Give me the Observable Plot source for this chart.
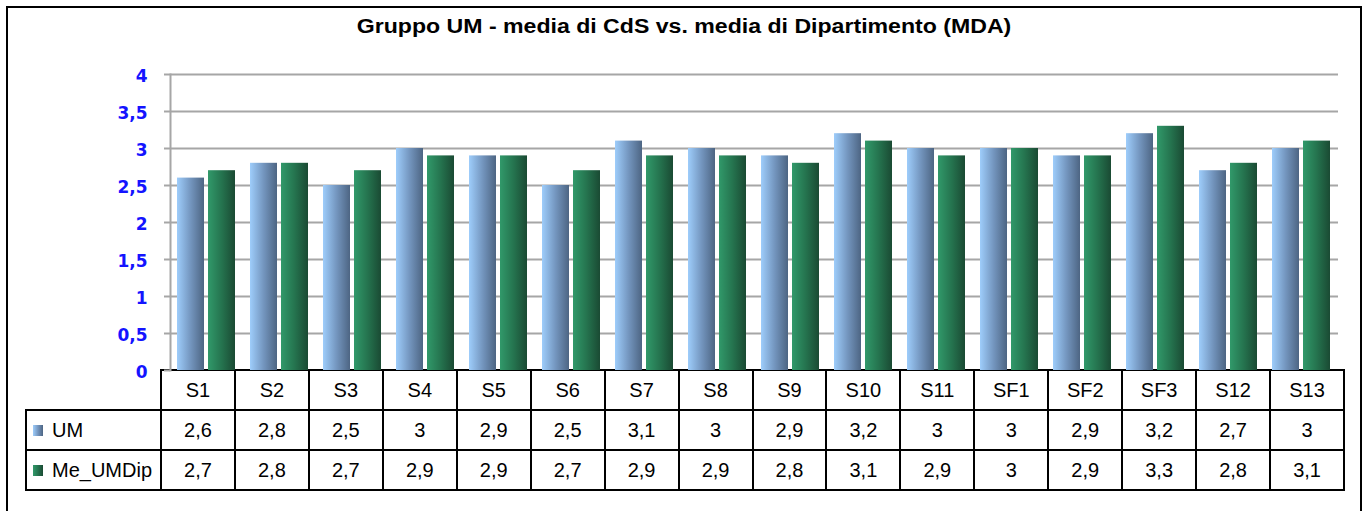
<!DOCTYPE html>
<html>
<head>
<meta charset="utf-8">
<script src="https://cdn.jsdelivr.net/npm/d3@7"></script>
<script src="https://cdn.jsdelivr.net/npm/@observablehq/plot@0.6"></script>
<style>
  body { margin: 0; background: #fff; }
  #wrap { position: relative; width: 1368px; height: 511px; overflow: hidden; font-family: "Liberation Sans", Arial, sans-serif; background: #fff; }
  #frame { position: absolute; left: 6px; top: 6px; width: 1356px; height: 520px; border: 2px solid #000; box-sizing: border-box; }
  #title { position: absolute; left: 0; top: 16px; width: 1368px; text-align: center; font-weight: bold; font-size: 20px; line-height: 20px; color: #000; transform: scaleX(1.155); transform-origin: 684px 0; }
  #chart { position: absolute; left: 0; top: 0; z-index: 2; }
  #tbl { position: absolute; left: 25px; top: 369px; width: 1320px; display: grid; grid-template-columns: 137px repeat(16, 1fr); grid-template-rows: 42px 40px 40px; z-index: 1; }
  #tbl div.c { box-sizing: border-box; display: flex; align-items: center; justify-content: center; font-size: 20px; color: #000; background: #fff; }
  #tbl div.lg { justify-content: flex-start; padding-left: 6px; }
  .key { display: inline-block; width: 10px; height: 11px; margin-right: 9px; }
</style>
</head>
<body>
<div id="wrap">
  <div id="frame"></div>
  <div id="title"></div>
  <div id="tbl"></div>
  <div id="chart"></div>
</div>
<script>
const titleText = "Gruppo UM - media di CdS vs. media di Dipartimento (MDA)";
const categories = ["S1","S2","S3","S4","S5","S6","S7","S8","S9","S10","S11","SF1","SF2","SF3","S12","S13"];
const seriesNames = ["UM", "Me_UMDip"];
const umValues = [2.6, 2.8, 2.5, 3, 2.9, 2.5, 3.1, 3, 2.9, 3.2, 3, 3, 2.9, 3.2, 2.7, 3];
const meValues = [2.7, 2.8, 2.7, 2.9, 2.9, 2.7, 2.9, 2.9, 2.8, 3.1, 2.9, 3, 2.9, 3.3, 2.8, 3.1];
const yTicks = [0, 0.5, 1, 1.5, 2, 2.5, 3, 3.5, 4];

const fmt = v => String(v).replace(".", ",");
const gradUM = ["#9ecdfb", "#7496bf", "#4d6583"];
const gradMe = ["#31996a", "#25744f", "#1a4a33"];

document.getElementById("title").textContent = titleText;

const rows = categories.flatMap((c, i) => [
  {cat: c, series: seriesNames[0], value: umValues[i]},
  {cat: c, series: seriesNames[1], value: meValues[i]}
]);

const chart = Plot.plot({
  width: 1368,
  height: 380,
  marginTop: 74,
  marginBottom: 10,
  marginLeft: 162,
  marginRight: 23,
  style: {fontFamily: "DejaVu Sans", background: "transparent", overflow: "visible"},
  fx: {domain: categories, padding: 0, axis: null, label: null},
  x: {domain: seriesNames, paddingInner: 0.125, paddingOuter: 0.219, axis: null},
  y: {domain: [0, 4], axis: null},
  marks: [
    Plot.ruleY(yTicks.filter(v => v > 0), {stroke: "#a6a6a6", strokeWidth: 2}),
    Plot.barY(rows.filter(d => d.series === seriesNames[0]), {fx: "cat", x: "series", y: "value", fill: "url(#gUM)"}),
    Plot.barY(rows.filter(d => d.series === seriesNames[1]), {fx: "cat", x: "series", y: "value", fill: "url(#gMe)"}),
    Plot.axisY({ticks: yTicks, label: null, tickSize: 6, stroke: "#a6a6a6", strokeWidth: 2, fill: "none", facetAnchor: "left"}),
    Plot.axisY({ticks: yTicks, tickFormat: fmt, label: null, tickSize: 0, tickPadding: 23, dy: 2, stroke: "none",
      fill: "#1414ff", fontWeight: "bold", fontSize: 17, fontFamily: "DejaVu Sans", facetAnchor: "left"}),
    Plot.frame({anchor: "left", facetAnchor: "left", stroke: "#a6a6a6", strokeWidth: 2})
  ]
});

const svg = d3.select(chart);
const defs = svg.insert("defs", ":first-child");
function addGrad(id, cols) {
  const g = defs.append("linearGradient").attr("id", id).attr("x1", 0).attr("x2", 1).attr("y1", 0).attr("y2", 0);
  cols.forEach((c, i) => g.append("stop").attr("offset", i / (cols.length - 1)).attr("stop-color", c));
}
addGrad("gUM", gradUM);
addGrad("gMe", gradMe);
document.getElementById("chart").appendChild(chart);

// data table
const tbl = document.getElementById("tbl");
const B = "2px solid #000";
function cell(html, styles, cls) {
  const d = document.createElement("div");
  d.className = "c" + (cls ? " " + cls : "");
  d.innerHTML = html;
  Object.assign(d.style, styles);
  tbl.appendChild(d);
  return d;
}
cell("", {borderRight: B, borderBottom: B, background: "transparent"});
categories.forEach(c => cell(c, {borderTop: B, borderRight: B, borderBottom: B}));
[[seriesNames[0], umValues, gradUM], [seriesNames[1], meValues, gradMe]].forEach(([name, vals, g]) => {
  cell(`<span class="key" style="background:linear-gradient(to right, ${g.join(",")})"></span>${name}`,
    {borderLeft: B, borderRight: B, borderBottom: B}, "lg");
  vals.forEach(v => cell(fmt(v), {borderRight: B, borderBottom: B}));
});
</script>
</body>
</html>
